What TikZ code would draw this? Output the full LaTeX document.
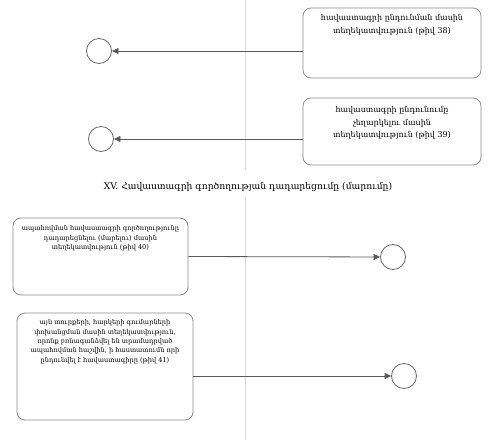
\documentclass[tikz,border=0pt]{standalone}
\usepackage{fontspec}
\setmainfont{DejaVu Serif}
\usetikzlibrary{arrows.meta}
\begin{document}
\begin{tikzpicture}[x=1pt,y=-1pt,
  box/.style={draw=black!45, rounded corners=8pt, line width=0.8pt, inner sep=0},
  endc/.style={circle, draw=black!60, line width=0.8pt, minimum size=25pt, inner sep=0},
  flow/.style={draw=black!65, line width=0.8pt, -{Triangle[length=6.5pt,width=6pt]}},
  txtA/.style={font=\fontsize{8}{12.5}\selectfont, align=center, inner sep=0, anchor=north},
  txtB/.style={font=\fontsize{6.6}{9.3}\selectfont, align=center, inner sep=0, anchor=north},
  lane/.style={draw=black!15, line width=0.8pt}]
\useasboundingbox (0,0) rectangle (488,440);
% lane divider
\draw[lane] (245,0) -- (245,170);
\draw[lane] (245,197) -- (245,440);
% title
\node[font=\fontsize{9.2}{11}\selectfont, inner sep=0] (title) at (248,187) {XV. Հավաստագրի գործողության դադարեցումը (մարումը)};
% boxes
\node[box, minimum width=178pt, minimum height=70pt] (b1) at (392,43) {};
\node[txtA] (t1) at ([yshift=-7pt]b1.north) {հավաստագրի ընդունման մասին\\տեղեկատվություն (թիվ 38)};
\node[box, minimum width=178pt, minimum height=67pt] (b2) at (392,131.5) {};
\node[txtA] (t2) at ([yshift=-9pt]b2.north) {հավաստագրի ընդունումը\\չեղարկելու մասին\\տեղեկատվություն (թիվ 39)};
\node[box, minimum width=175pt, minimum height=77pt] (b3) at (100.5,256.5) {};
\node[txtB] (t3) at ([yshift=-8pt]b3.north) {ապահովման հավաստագրի գործողությունը\\դադարեցնելու (մարելու) մասին\\տեղեկատվություն (թիվ 40)};
\node[box, minimum width=176pt, minimum height=107pt] (b4) at (105,366.5) {};
\node[txtB] (t4) at ([yshift=-7pt]b4.north) {այն տուրքերի, հարկերի գումարների\\փոխանցման մասին տեղեկատվություն,\\որոնք բռնագանձվել են տրամադրված\\ապահովման հաշվին, ի հաստատումն որի\\ընդունվել է հավաստագիրը (թիվ 41)};
% end events
\node[endc] (c1) at (99,51) {};
\node[endc] (c2) at (101,139) {};
\node[endc] (c3) at (393,257) {};
\node[endc] (c4) at (404,376) {};
% flows
\draw[flow] ([yshift=-8pt]b1.west) -- (c1);
\draw[flow] ([yshift=-7.5pt]b2.west) -- (c2);
\draw[flow] (b3.east) -- (c3);
\draw[flow] ([yshift=-9.5pt]b4.east) -- (c4);
\end{tikzpicture}
\end{document}
